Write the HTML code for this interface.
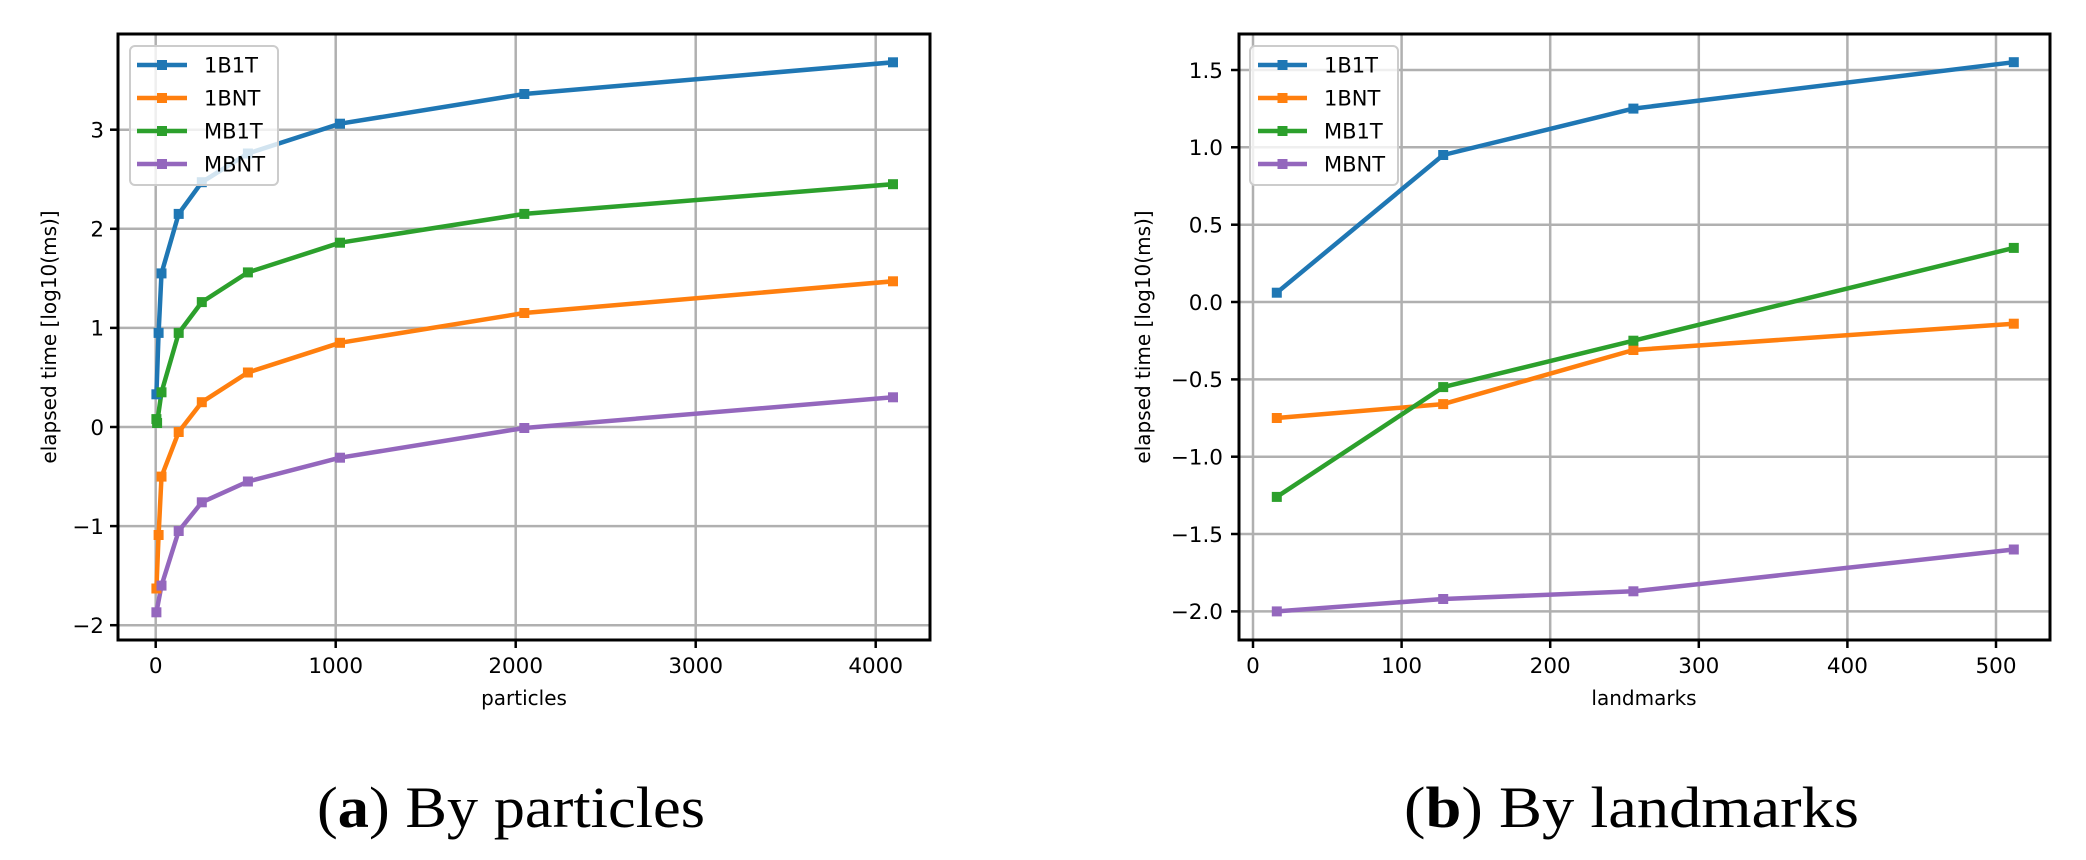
<!DOCTYPE html>
<html><head><meta charset="utf-8"><style>html,body{margin:0;padding:0;background:#fff}svg{display:block}</style></head>
<body>
<svg width="2086" height="860" xmlns="http://www.w3.org/2000/svg" font-family="'DejaVu Sans','Liberation Sans',sans-serif">
<rect width="2086" height="860" fill="#fff"/>
<!-- LEFT -->
<g stroke="#b0b0b0" stroke-width="2.5">
<line x1="155.7" y1="34" x2="155.7" y2="640"/><line x1="335.7" y1="34" x2="335.7" y2="640"/><line x1="515.7" y1="34" x2="515.7" y2="640"/><line x1="695.7" y1="34" x2="695.7" y2="640"/><line x1="875.7" y1="34" x2="875.7" y2="640"/>
<line x1="118" y1="129.7" x2="930" y2="129.7"/><line x1="118" y1="228.8" x2="930" y2="228.8"/><line x1="118" y1="327.9" x2="930" y2="327.9"/><line x1="118" y1="427" x2="930" y2="427"/><line x1="118" y1="526.1" x2="930" y2="526.1"/><line x1="118" y1="625.2" x2="930" y2="625.2"/>
</g>
<g fill="none" stroke-width="4.5" stroke-linejoin="round">
<polyline stroke="#1f77b4" points="156.4,394.3 158.6,332.9 161.5,273.4 178.7,213.9 201.8,182.2 247.9,153.5 340,123.7 524.3,94 893,62.3"/>
<polyline stroke="#ff7f0e" points="156.4,588.5 158.6,535 161.5,476.6 178.7,432 201.8,402.2 247.9,372.5 340,342.8 524.3,313 893,281.3"/>
<polyline stroke="#2ca02c" points="156.4,419.1 157.1,423 161.5,392.3 178.7,332.9 201.8,302.1 247.9,272.4 340,242.7 524.3,213.9 893,184.2"/>
<polyline stroke="#9467bd" points="156.4,612.3 161.5,585.6 178.7,531 201.8,502.3 247.9,481.5 340,457.7 524.3,428 893,397.3"/>
</g>
<g fill="#1f77b4"><rect x="151.4" y="389.3" width="10" height="10"/><rect x="153.6" y="327.9" width="10" height="10"/><rect x="156.5" y="268.4" width="10" height="10"/><rect x="173.7" y="208.9" width="10" height="10"/><rect x="196.8" y="177.2" width="10" height="10"/><rect x="242.9" y="148.5" width="10" height="10"/><rect x="335" y="118.7" width="10" height="10"/><rect x="519.3" y="89" width="10" height="10"/><rect x="888" y="57.3" width="10" height="10"/></g>
<g fill="#ff7f0e"><rect x="151.4" y="583.5" width="10" height="10"/><rect x="153.6" y="530" width="10" height="10"/><rect x="156.5" y="471.6" width="10" height="10"/><rect x="173.7" y="427" width="10" height="10"/><rect x="196.8" y="397.2" width="10" height="10"/><rect x="242.9" y="367.5" width="10" height="10"/><rect x="335" y="337.8" width="10" height="10"/><rect x="519.3" y="308" width="10" height="10"/><rect x="888" y="276.3" width="10" height="10"/></g>
<g fill="#2ca02c"><rect x="151.4" y="414.1" width="10" height="10"/><rect x="152.1" y="418" width="10" height="10"/><rect x="156.5" y="387.3" width="10" height="10"/><rect x="173.7" y="327.9" width="10" height="10"/><rect x="196.8" y="297.1" width="10" height="10"/><rect x="242.9" y="267.4" width="10" height="10"/><rect x="335" y="237.7" width="10" height="10"/><rect x="519.3" y="208.9" width="10" height="10"/><rect x="888" y="179.2" width="10" height="10"/></g>
<g fill="#9467bd"><rect x="151.4" y="607.3" width="10" height="10"/><rect x="156.5" y="580.6" width="10" height="10"/><rect x="173.7" y="526" width="10" height="10"/><rect x="196.8" y="497.3" width="10" height="10"/><rect x="242.9" y="476.5" width="10" height="10"/><rect x="335" y="452.7" width="10" height="10"/><rect x="519.3" y="423" width="10" height="10"/><rect x="888" y="392.3" width="10" height="10"/></g>
<rect x="118" y="34" width="812" height="606" fill="none" stroke="#000" stroke-width="3"/>
<g stroke="#000" stroke-width="2.5">
<line x1="155.7" y1="640" x2="155.7" y2="648"/><line x1="335.7" y1="640" x2="335.7" y2="648"/><line x1="515.7" y1="640" x2="515.7" y2="648"/><line x1="695.7" y1="640" x2="695.7" y2="648"/><line x1="875.7" y1="640" x2="875.7" y2="648"/>
<line x1="110" y1="129.7" x2="118" y2="129.7"/><line x1="110" y1="228.8" x2="118" y2="228.8"/><line x1="110" y1="327.9" x2="118" y2="327.9"/><line x1="110" y1="427" x2="118" y2="427"/><line x1="110" y1="526.1" x2="118" y2="526.1"/><line x1="110" y1="625.2" x2="118" y2="625.2"/>
</g>
<g font-size="21.5" fill="#000" text-anchor="middle">
<text x="155.7" y="673">0</text><text x="335.7" y="673">1000</text><text x="515.7" y="673">2000</text><text x="695.7" y="673">3000</text><text x="875.7" y="673">4000</text>
</g>
<g font-size="21.5" fill="#000" text-anchor="end">
<text x="104" y="137.5">3</text><text x="104" y="236.6">2</text><text x="104" y="335.7">1</text><text x="104" y="434.8">0</text><text x="104" y="533.9">−1</text><text x="104" y="633">−2</text>
</g>
<text x="524" y="705" font-size="20" text-anchor="middle">particles</text>
<text transform="translate(56,337) rotate(-90)" font-size="20" text-anchor="middle">elapsed time [log10(ms)]</text>
<rect x="130" y="46" width="148" height="139" rx="5" fill="#fff" fill-opacity="0.8" stroke="#cccccc" stroke-width="2"/>
<g stroke-width="4.5"><line x1="137" y1="65" x2="187" y2="65" stroke="#1f77b4"/><line x1="137" y1="98" x2="187" y2="98" stroke="#ff7f0e"/><line x1="137" y1="131" x2="187" y2="131" stroke="#2ca02c"/><line x1="137" y1="164" x2="187" y2="164" stroke="#9467bd"/></g>
<rect x="157" y="60" width="10" height="10" fill="#1f77b4"/><rect x="157" y="93" width="10" height="10" fill="#ff7f0e"/><rect x="157" y="126" width="10" height="10" fill="#2ca02c"/><rect x="157" y="159" width="10" height="10" fill="#9467bd"/>
<g font-size="21" fill="#000"><text x="204" y="72.5">1B1T</text><text x="204" y="105.5">1BNT</text><text x="204" y="138.5">MB1T</text><text x="204" y="171.5">MBNT</text></g>
<text x="317" y="827" font-size="58" font-family="'Liberation Serif',serif" textLength="388" lengthAdjust="spacingAndGlyphs">(<tspan font-weight="bold">a</tspan>) By particles</text>

<!-- RIGHT -->
<g stroke="#b0b0b0" stroke-width="2.5">
<line x1="1253" y1="34" x2="1253" y2="640"/><line x1="1401.6" y1="34" x2="1401.6" y2="640"/><line x1="1550.2" y1="34" x2="1550.2" y2="640"/><line x1="1698.8" y1="34" x2="1698.8" y2="640"/><line x1="1847.4" y1="34" x2="1847.4" y2="640"/><line x1="1996" y1="34" x2="1996" y2="640"/>
<line x1="1239" y1="70" x2="2050" y2="70"/><line x1="1239" y1="147.3" x2="2050" y2="147.3"/><line x1="1239" y1="224.7" x2="2050" y2="224.7"/><line x1="1239" y1="302" x2="2050" y2="302"/><line x1="1239" y1="379.4" x2="2050" y2="379.4"/><line x1="1239" y1="456.7" x2="2050" y2="456.7"/><line x1="1239" y1="534" x2="2050" y2="534"/><line x1="1239" y1="611.4" x2="2050" y2="611.4"/>
</g>
<g fill="none" stroke-width="4.5" stroke-linejoin="round">
<polyline stroke="#1f77b4" points="1276.8,292.7 1443.2,155 1633.4,108.6 2013.8,62.2"/>
<polyline stroke="#ff7f0e" points="1276.8,418 1443.2,404.1 1633.4,350 2013.8,323.7"/>
<polyline stroke="#2ca02c" points="1276.8,496.9 1443.2,387.1 1633.4,340.7 2013.8,247.9"/>
<polyline stroke="#9467bd" points="1276.8,611.4 1443.2,599 1633.4,591.3 2013.8,549.5"/>
</g>
<g fill="#1f77b4"><rect x="1271.8" y="287.7" width="10" height="10"/><rect x="1438.2" y="150" width="10" height="10"/><rect x="1628.4" y="103.6" width="10" height="10"/><rect x="2008.8" y="57.2" width="10" height="10"/></g>
<g fill="#ff7f0e"><rect x="1271.8" y="413" width="10" height="10"/><rect x="1438.2" y="399.1" width="10" height="10"/><rect x="1628.4" y="345" width="10" height="10"/><rect x="2008.8" y="318.7" width="10" height="10"/></g>
<g fill="#2ca02c"><rect x="1271.8" y="491.9" width="10" height="10"/><rect x="1438.2" y="382.1" width="10" height="10"/><rect x="1628.4" y="335.7" width="10" height="10"/><rect x="2008.8" y="242.9" width="10" height="10"/></g>
<g fill="#9467bd"><rect x="1271.8" y="606.4" width="10" height="10"/><rect x="1438.2" y="594" width="10" height="10"/><rect x="1628.4" y="586.3" width="10" height="10"/><rect x="2008.8" y="544.5" width="10" height="10"/></g>
<rect x="1239" y="34" width="811" height="606" fill="none" stroke="#000" stroke-width="3"/>
<g stroke="#000" stroke-width="2.5">
<line x1="1253" y1="640" x2="1253" y2="648"/><line x1="1401.6" y1="640" x2="1401.6" y2="648"/><line x1="1550.2" y1="640" x2="1550.2" y2="648"/><line x1="1698.8" y1="640" x2="1698.8" y2="648"/><line x1="1847.4" y1="640" x2="1847.4" y2="648"/><line x1="1996" y1="640" x2="1996" y2="648"/>
<line x1="1231" y1="70" x2="1239" y2="70"/><line x1="1231" y1="147.3" x2="1239" y2="147.3"/><line x1="1231" y1="224.7" x2="1239" y2="224.7"/><line x1="1231" y1="302" x2="1239" y2="302"/><line x1="1231" y1="379.4" x2="1239" y2="379.4"/><line x1="1231" y1="456.7" x2="1239" y2="456.7"/><line x1="1231" y1="534" x2="1239" y2="534"/><line x1="1231" y1="611.4" x2="1239" y2="611.4"/>
</g>
<g font-size="21.5" fill="#000" text-anchor="middle">
<text x="1253" y="673">0</text><text x="1401.6" y="673">100</text><text x="1550.2" y="673">200</text><text x="1698.8" y="673">300</text><text x="1847.4" y="673">400</text><text x="1996" y="673">500</text>
</g>
<g font-size="21.5" fill="#000" text-anchor="end">
<text x="1223" y="77.8">1.5</text><text x="1223" y="155.1">1.0</text><text x="1223" y="232.5">0.5</text><text x="1223" y="309.8">0.0</text><text x="1223" y="387.2">−0.5</text><text x="1223" y="464.5">−1.0</text><text x="1223" y="541.8">−1.5</text><text x="1223" y="619.2">−2.0</text>
</g>
<text x="1644" y="705" font-size="20" text-anchor="middle">landmarks</text>
<text transform="translate(1150,337) rotate(-90)" font-size="20" text-anchor="middle">elapsed time [log10(ms)]</text>
<rect x="1250" y="46" width="148" height="139" rx="5" fill="#fff" fill-opacity="0.8" stroke="#cccccc" stroke-width="2"/>
<g stroke-width="4.5"><line x1="1258" y1="65" x2="1307" y2="65" stroke="#1f77b4"/><line x1="1258" y1="98" x2="1307" y2="98" stroke="#ff7f0e"/><line x1="1258" y1="131" x2="1307" y2="131" stroke="#2ca02c"/><line x1="1258" y1="164" x2="1307" y2="164" stroke="#9467bd"/></g>
<rect x="1277.5" y="60" width="10" height="10" fill="#1f77b4"/><rect x="1277.5" y="93" width="10" height="10" fill="#ff7f0e"/><rect x="1277.5" y="126" width="10" height="10" fill="#2ca02c"/><rect x="1277.5" y="159" width="10" height="10" fill="#9467bd"/>
<g font-size="21" fill="#000"><text x="1324" y="72.5">1B1T</text><text x="1324" y="105.5">1BNT</text><text x="1324" y="138.5">MB1T</text><text x="1324" y="171.5">MBNT</text></g>
<text x="1404" y="827" font-size="58" font-family="'Liberation Serif',serif" textLength="455" lengthAdjust="spacingAndGlyphs">(<tspan font-weight="bold">b</tspan>) By landmarks</text>
</svg>
</body></html>
